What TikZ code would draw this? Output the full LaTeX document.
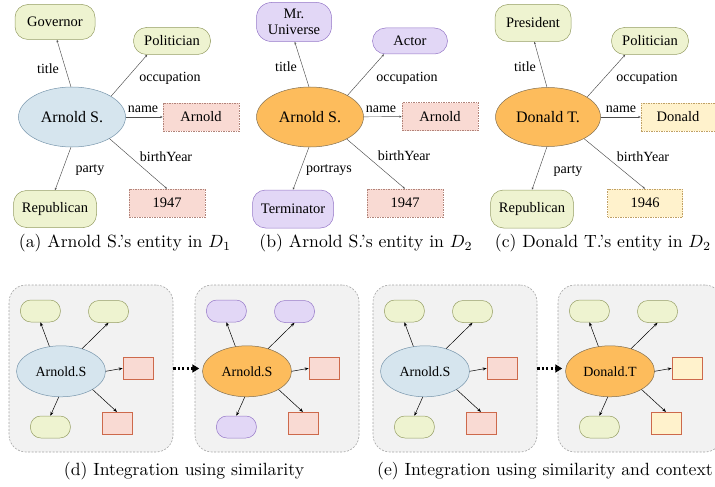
\documentclass[tikz,border=0pt]{standalone}
\usepackage{fontspec}
\newfontfamily\tms{Liberation Serif}
\usetikzlibrary{shapes.geometric,arrows.meta}
\definecolor{gF}{RGB}{238,243,208}
\definecolor{gD}{RGB}{150,158,100}
\definecolor{bF}{RGB}{214,229,238}
\definecolor{bD}{RGB}{120,150,172}
\definecolor{oF}{RGB}{253,188,92}
\definecolor{oD}{RGB}{130,112,82}
\definecolor{pF}{RGB}{249,218,211}
\definecolor{pDash}{RGB}{178,132,122}
\definecolor{pSolid}{RGB}{205,105,75}
\definecolor{uF}{RGB}{226,215,246}
\definecolor{uD}{RGB}{150,120,200}
\definecolor{yF}{RGB}{255,242,204}
\definecolor{yDash}{RGB}{192,160,100}
\definecolor{bgF}{RGB}{242,242,242}
\definecolor{bgD}{RGB}{165,165,165}
\newcommand\capt[1]{\scalebox{1.77}{#1}}
\tikzset{
  every node/.style={inner sep=0pt},
  ntxt/.style={font=\tms\fontsize{14.5}{16}\selectfont},
  pill/.style={draw, rounded corners=13pt, line width=0.5pt, ntxt, align=center},
  pillG/.style={pill, fill=gF, draw=gD},
  pillU/.style={pill, fill=uF, draw=uD},
  ent/.style={ellipse, draw, line width=0.5pt, font=\tms\fontsize{16}{18}\selectfont, minimum width=107pt, minimum height=60pt},
  entB/.style={ent, fill=bF, draw=bD},
  entO/.style={ent, fill=oF, draw=oD},
  lit/.style={rectangle, draw, dash pattern=on 1.5pt off 1pt, line width=0.5pt, minimum width=76pt, minimum height=28pt, ntxt},
  litP/.style={lit, fill=pF, draw=pDash},
  litY/.style={lit, fill=yF, draw=yDash},
  rel/.style={font=\tms\fontsize{14}{16}\selectfont},
  reledge/.style={draw=black!70, line width=0.45pt, -{Stealth[length=2.5pt,width=2pt]}},
  bgbox/.style={draw=bgD, fill=bgF, dash pattern=on 2pt off 1.5pt, rounded corners=17pt, minimum width=164pt, minimum height=167pt, line width=0.6pt},
  mpill/.style={draw, rounded corners=10.5pt, minimum width=40pt, minimum height=22pt, line width=0.5pt},
  mbox/.style={draw=pSolid, minimum width=30pt, minimum height=22pt, line width=0.7pt},
  ment/.style={ellipse, draw, minimum width=89pt, minimum height=51pt, font=\tms\fontsize{14}{16}\selectfont, line width=0.5pt},
  marr/.style={draw=black, line width=0.5pt, -{Stealth[length=4pt,width=3pt]}},
  dotarr/.style={draw=black, line width=2.2pt, dash pattern=on 2.2pt off 2.2pt, -{Triangle[length=7pt,width=8pt]}},
  captxt/.style={font=\fontsize{10}{12}\selectfont}
}
\newcommand\minig[6]{%
  \node[bgbox] (#1bg) at (#2+82,368.5) {};
  \node[ment,#3] (#1e) at (#2+52,371.3) {#4};
  \node[mpill,#5] (#1p1) at (#2+31.4,311) {};
  \node[mpill,#5] (#1p2) at (#2+99.5,311.5) {};
  \node[mpill,#5] (#1p3) at (#2+41.4,427) {};
  \node[mbox,#6] (#1b1) at (#2+129,368.3) {};
  \node[mbox,#6] (#1b2) at (#2+108,423.3) {};
  \draw[marr] (#1e.115) -- (#1p1.south);
  \draw[marr] (#1e.47) -- (#1p2.south);
  \draw[marr] (#1e.0) -- (#1b1.west);
  \draw[marr] (#1e.330) -- (#1b2.north);
  \draw[marr] (#1e.265) -- (#1p3.north);
}
\begin{document}
\begin{tikzpicture}[x=1pt,y=-1pt]
\useasboundingbox (0,0) rectangle (715,487);
\clip (0,0) rectangle (715,487);
% ---------- panel a
\node[entB] (a0) at (72,117) {Arnold S.};
\node[pillG, minimum width=80pt, minimum height=35pt] (a1) at (55,22) {Governor};
\node[pillG, minimum width=77pt, minimum height=27pt] (a2) at (172,41) {Politician};
\node[litP] (a3) at (201,117) {Arnold};
\node[litP] (a4) at (167,203) {1947};
\node[pillG, minimum width=83pt, minimum height=37pt] (a5) at (55,209) {Republican};
\draw[reledge] (a0.92) -- (a1.276);
\draw[reledge] (a0.28) -- (a2.209);
\draw[reledge] (a0) -- (a3);
\draw[reledge] (a0.330) -- (a4.north);
\draw[reledge] (a0.268) -- (a5.north);
\node[rel] (a1l) at (48,69) {title};
\node[rel] (a2l) at (170,78) {occupation};
\node[rel] (a3l) at (143,109) {name};
\node[rel] (a4l) at (166,157) {birthYear};
\node[rel] (a5l) at (90,170) {party};
% ---------- panel b
\node[entO] (b0) at (310,117) {Arnold S.};
\node[pillU, minimum width=75pt, minimum height=39pt, rounded corners=15pt] (b1) at (294,22) {Mr.\\Universe};
\node[pillU, minimum width=75pt, minimum height=26pt] (b2) at (410,41) {Actor};
\node[litP] (b3) at (440,116.5) {Arnold};
\node[litP] (b4) at (405,203) {1947};
\node[pillU, minimum width=81pt, minimum height=38pt] (b5) at (293,209) {Terminator};
\draw[reledge] (b0.92) -- (b1.272);
\draw[reledge] (b0.30) -- (b2.207);
\draw[reledge] (b0) -- (b3);
\draw[reledge] (b0.329) -- (b4.north);
\draw[reledge] (b0.268) -- (b5.north);
\node[rel] (b1l) at (286,67) {title};
\node[rel] (b2l) at (407,78) {occupation};
\node[rel] (b3l) at (381,109) {name};
\node[rel] (b4l) at (404,156) {birthYear};
\node[rel] (b5l) at (329,170) {portrays};
% ---------- panel c
\node[entO, minimum width=105pt, minimum height=59pt] (c0) at (548,117) {Donald T.};
\node[pillG, minimum width=76pt, minimum height=37pt] (c1) at (533,23) {President};
\node[pillG, minimum width=77pt, minimum height=27pt] (c2) at (650,41) {Politician};
\node[litY, minimum width=74pt] (c3) at (678,117) {Donald};
\node[litY, minimum width=75pt] (c4) at (645,203) {1946};
\node[pillG, minimum width=83pt, minimum height=38pt] (c5) at (532,209) {Republican};
\draw[reledge] (c0.92) -- (c1.274);
\draw[reledge] (c0.27) -- (c2.209);
\draw[reledge] (c0) -- (c3);
\draw[reledge] (c0.329) -- (c4.north);
\draw[reledge] (c0.268) -- (c5.north);
\node[rel] (c1l) at (525,67) {title};
\node[rel] (c2l) at (647,78) {occupation};
\node[rel] (c3l) at (621,109) {name};
\node[rel] (c4l) at (643,157) {birthYear};
\node[rel] (c5l) at (568,171) {party};
% ---------- captions
\node[captxt] (capa) at (125,243) {\capt{(a) Arnold S.'s entity in $D_1$}};
\node[captxt] (capb) at (366,243) {\capt{(b) Arnold S.'s entity in $D_2$}};
\node[captxt] (capc) at (603,243) {\capt{(c) Donald T.'s entity in $D_2$}};
% ---------- bottom row
\minig{m1}{9}{fill=bF,draw=bD}{Arnold.S}{fill=gF,draw=gD}{fill=pF}
\minig{m2}{195}{fill=oF,draw=oD}{Arnold.S}{fill=uF,draw=uD}{fill=pF}
\minig{m3}{373}{fill=bF,draw=bD}{Arnold.S}{fill=gF,draw=gD}{fill=pF}
\minig{m4}{558}{fill=oF,draw=oD}{Donald.T}{fill=gF,draw=gD}{fill=yF}
\draw[dotarr, shorten >=3pt] (m1bg.east) -- (m2e.west |- m1bg.east);
\draw[dotarr, shorten >=3pt] (m3bg.east) -- (m4e.west |- m3bg.east);
\node[captxt] (capd) at (184,471) {\capt{(d) Integration using similarity}};
\node[captxt] (cape) at (545,471) {\capt{(e) Integration using similarity and context}};
\end{tikzpicture}
\end{document}
